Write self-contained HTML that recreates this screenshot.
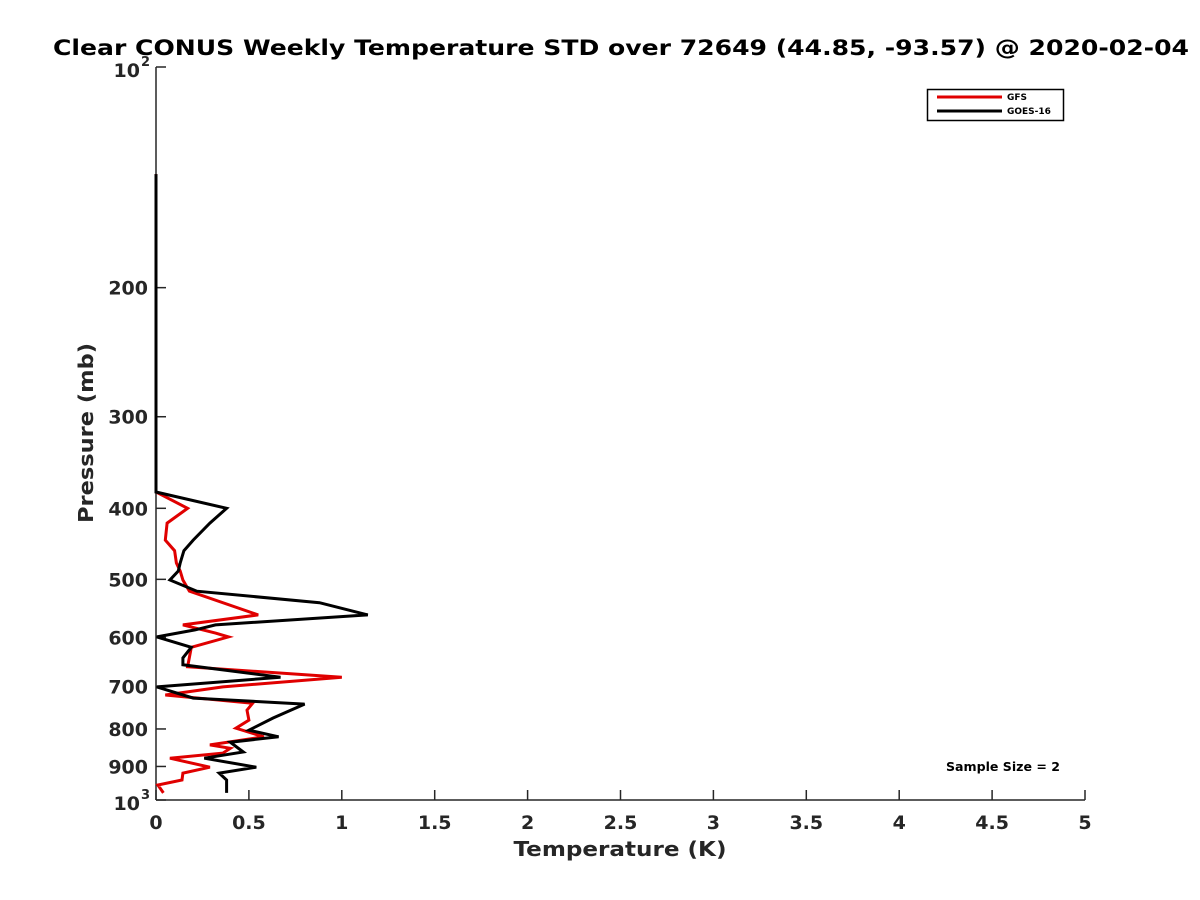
<!DOCTYPE html>
<html><head><meta charset="utf-8"><style>
body{margin:0;background:#fff;}
svg{display:block;font-family:"DejaVu Sans","Liberation Sans",sans-serif;font-weight:bold;}
</style></head><body>
<svg id="chart" width="1200" height="900" xmlns="http://www.w3.org/2000/svg">
<rect width="1200" height="900" fill="#fff"/>
<text x="621" y="55" text-anchor="middle" font-size="21" textLength="1136" lengthAdjust="spacingAndGlyphs" fill="#000">Clear CONUS Weekly Temperature STD over 72649 (44.85, -93.57) @ 2020-02-04</text>
<text x="620" y="856" text-anchor="middle" font-size="20" textLength="213" lengthAdjust="spacingAndGlyphs" fill="#262626">Temperature (K)</text>
<text transform="translate(93,433) rotate(-90)" text-anchor="middle" font-size="20" textLength="180" lengthAdjust="spacingAndGlyphs" fill="#262626">Pressure (mb)</text>
<g id="axes"></g>
<g id="series"></g>
<g>
<rect x="927.5" y="89.5" width="136" height="31" fill="#fff" stroke="#000" stroke-width="1.5"/>
<line x1="937" y1="97" x2="1002" y2="97" stroke="#e00000" stroke-width="3"/>
<text x="1007" y="100" font-size="9" fill="#000">GFS</text>
<line x1="937" y1="111" x2="1002" y2="111" stroke="#000" stroke-width="3"/>
<text x="1007" y="114" font-size="9" fill="#000">GOES-16</text>
</g>
<text x="1003" y="771" text-anchor="middle" font-size="12" textLength="114" lengthAdjust="spacingAndGlyphs" fill="#000">Sample Size = 2</text>
</svg>
<script>
const xTicks = [0,0.5,1,1.5,2,2.5,3,3.5,4,4.5,5];
const xTickLabels = ["0","0.5","1","1.5","2","2.5","3","3.5","4","4.5","5"];
const yTicks = [200,300,400,500,600,700,800,900];
const yTickLabels = ["200","300","400","500","600","700","800","900"];
const gfsPressure = [140,380,400,419,442,457,475,487,501,519,559,577,592,599,619,658,680,701,719,738,754,778,798,820,841,850,863,877,902,919,939,954,978];
const gfsTemp = [0,0,0.17,0.06,0.05,0.1,0.11,0.13,0.145,0.18,0.55,0.145,0.32,0.39,0.19,0.17,1.0,0.36,0.05,0.52,0.49,0.5,0.43,0.58,0.29,0.4,0.36,0.075,0.29,0.145,0.14,0.01,0.04];
const goesPressure = [140,380,400,419,442,457,475,487,501,519,538,559,577,586,599,619,640,654,680,701,726,740,759,773,803,820,834,860,877,902,919,939,978];
const goesTemp = [0,0,0.38,0.29,0.2,0.15,0.13,0.12,0.075,0.22,0.88,1.14,0.32,0.21,0.005,0.19,0.145,0.145,0.67,0.005,0.2,0.8,0.7,0.63,0.5,0.66,0.4,0.47,0.26,0.54,0.34,0.38,0.38];

const NS="http://www.w3.org/2000/svg";
const X0=156,X1=1085,Y0=67,Y1=800;
const xs=t=>X0+(t/5)*(X1-X0);
const ys=p=>Y0+(Math.log10(p)-2)*(Y1-Y0);
function mk(tag,attrs,parent){const e=document.createElementNS(NS,tag);for(const k in attrs)e.setAttribute(k,attrs[k]);parent.appendChild(e);return e;}
const axes=document.getElementById('axes');
const ax=mk('line',{x1:X0,y1:Y1,x2:X1,y2:Y1,stroke:'#262626','stroke-width':1.5},axes);


const ay=mk('line',{x1:X0,y1:Y0,x2:X0,y2:Y1,stroke:'#262626','stroke-width':1.5},axes);


xTicks.forEach((t,i)=>{
  const tk=mk('line',{x1:xs(t),y1:Y1,x2:xs(t),y2:Y1-10,stroke:'#262626','stroke-width':1.5},axes);
  
  
  const tx=mk('text',{x:xs(t),y:Y1+29,'text-anchor':'middle','font-size':19,fill:'#262626'},axes);
  tx.textContent=xTickLabels[i];
  
  
});
[100,1000].concat(yTicks).forEach(p=>{
  const tk=mk('line',{x1:X0,y1:ys(p),x2:X0+10,y2:ys(p),stroke:'#262626','stroke-width':1.5},axes);
  
  
});
yTicks.forEach((p,i)=>{
  const tx=mk('text',{x:X0-8,y:ys(p)+7,'text-anchor':'end','font-size':19,fill:'#262626'},axes);
  tx.textContent=yTickLabels[i];
  
  
});
[[100,'2'],[1000,'3']].forEach(([p,e])=>{
  const tx=mk('text',{x:X0-16,y:ys(p)+10,'text-anchor':'end','font-size':19,fill:'#262626'},axes);
  tx.textContent='10';
  
  
  const sp=mk('text',{x:X0-15,y:ys(p)-1,'font-size':13,fill:'#262626'},axes);
  sp.textContent=e;
  
  
});
const series=document.getElementById('series');
function line(P,T,color,name){
  const d=P.map((p,i)=>(i?'L':'M')+xs(T[i]).toFixed(1)+','+ys(p).toFixed(1)).join(' ');
  const l=mk('path',{d:d,fill:'none',stroke:color,'stroke-width':3,'stroke-linejoin':'miter'},series);
  
  
}
line(gfsPressure,gfsTemp,'#e00000','gfs-line');
line(goesPressure,goesTemp,'#000','goes16-line');
</script>
</body></html>
